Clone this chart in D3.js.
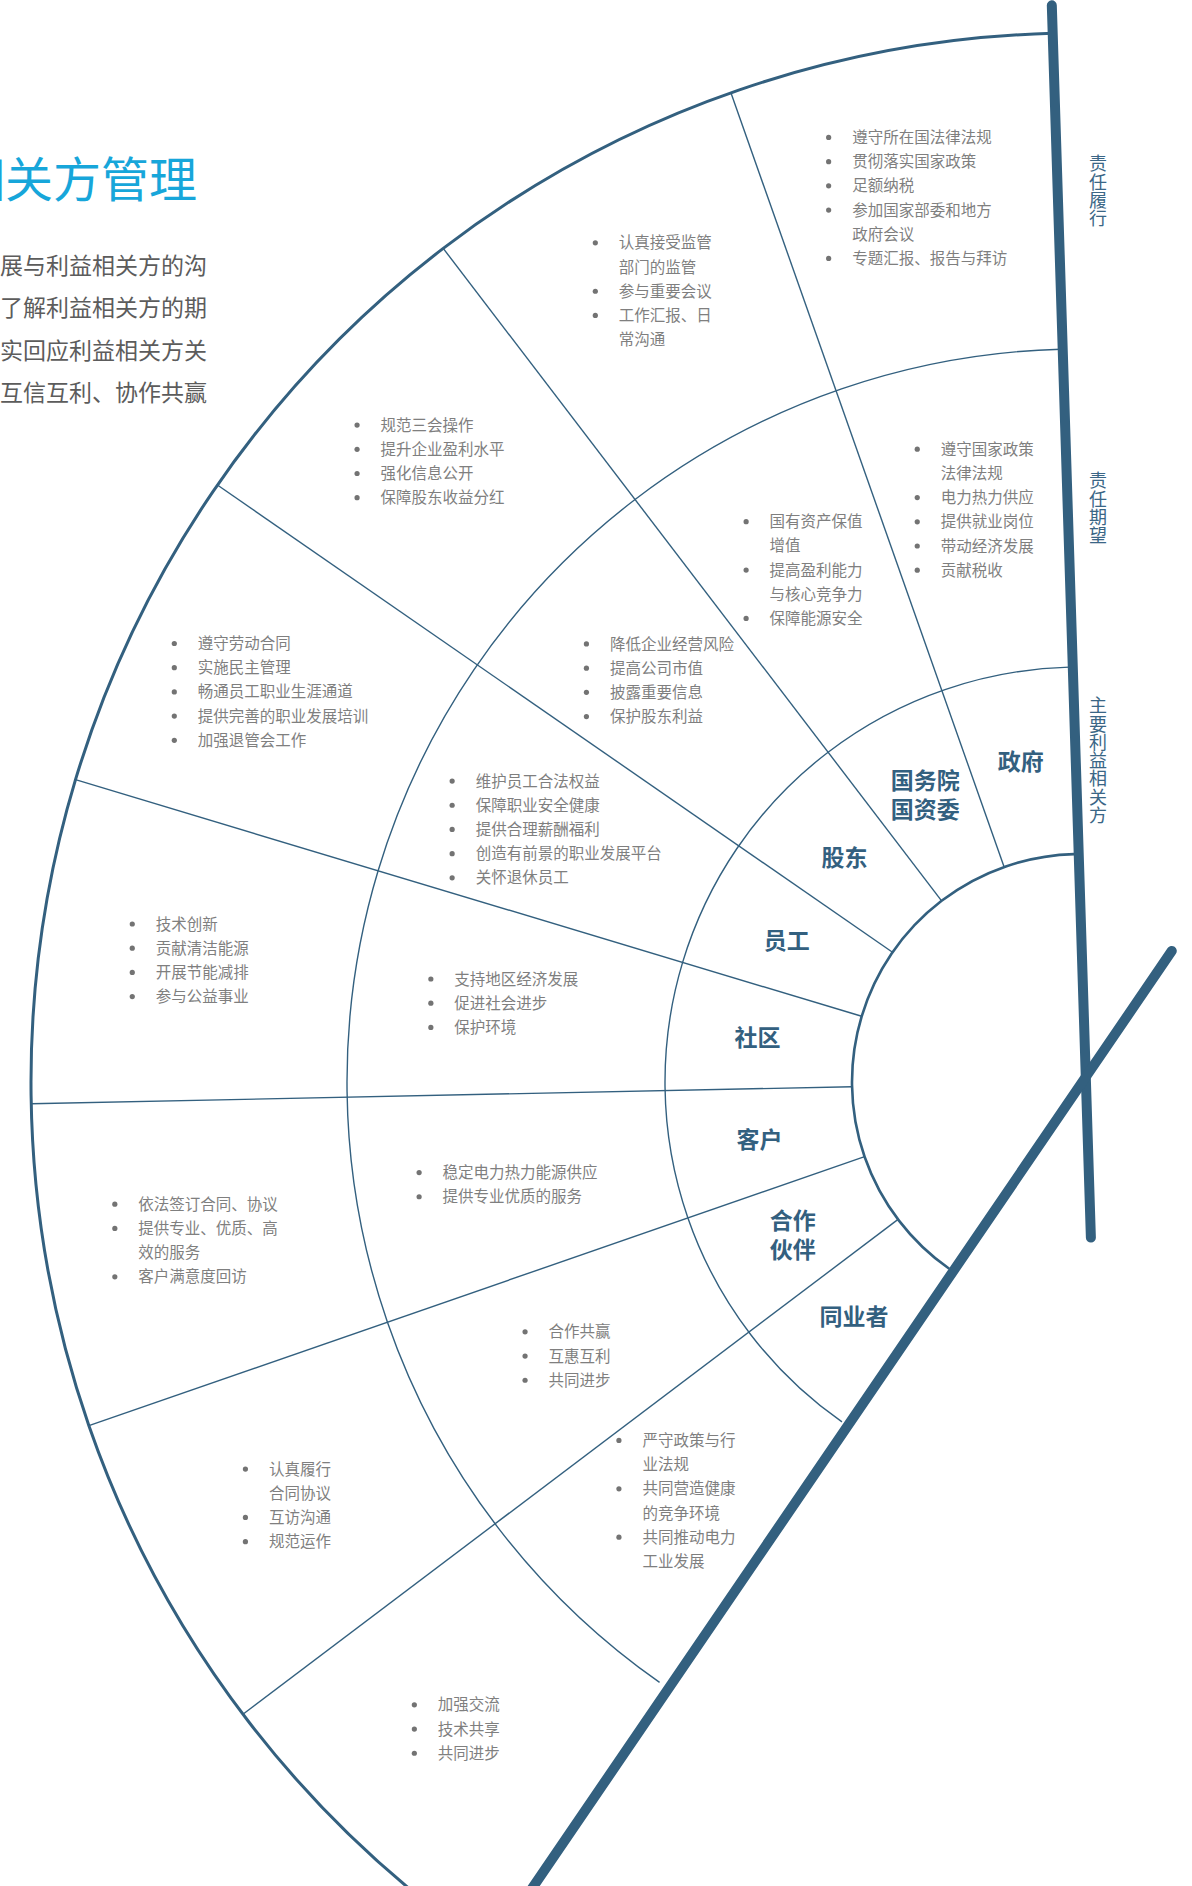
<!DOCTYPE html>
<html>
<head>
<meta charset="utf-8">
<script src="https://cdn.jsdelivr.net/npm/d3@7"></script>
<style>
  body { margin: 0; background: #fff; }
  svg { display: block; font-family: "Noto Sans CJK SC", "Noto Sans", sans-serif; }
</style>
</head>
<body>
<svg class="chart"></svg>
<script>
const width = 1192;
const height = 1886;

const title = "利益相关方管理";
const introLines = [
  "展与利益相关方的沟",
  "了解利益相关方的期",
  "实回应利益相关方关",
  "互信互利、协作共赢"
];

// inner ring -> outer ring
const ringTitles = ["主要利益相关方", "责任期望", "责任履行"];

const stakeholders = [
  ["政府"], ["国务院", "国资委"], ["股东"], ["员工"],
  ["社区"], ["客户"], ["合作", "伙伴"], ["同业者"]
];

const expectations = [
  [["遵守国家政策", "法律法规"], ["电力热力供应"], ["提供就业岗位"], ["带动经济发展"], ["贡献税收"]],
  [["国有资产保值", "增值"], ["提高盈利能力", "与核心竞争力"], ["保障能源安全"]],
  [["降低企业经营风险"], ["提高公司市值"], ["披露重要信息"], ["保护股东利益"]],
  [["维护员工合法权益"], ["保障职业安全健康"], ["提供合理薪酬福利"], ["创造有前景的职业发展平台"], ["关怀退休员工"]],
  [["支持地区经济发展"], ["促进社会进步"], ["保护环境"]],
  [["稳定电力热力能源供应"], ["提供专业优质的服务"]],
  [["合作共赢"], ["互惠互利"], ["共同进步"]],
  [["严守政策与行", "业法规"], ["共同营造健康", "的竞争环境"], ["共同推动电力", "工业发展"]]
];

const performance = [
  [["遵守所在国法律法规"], ["贯彻落实国家政策"], ["足额纳税"], ["参加国家部委和地方", "政府会议"], ["专题汇报、报告与拜访"]],
  [["认真接受监管", "部门的监管"], ["参与重要会议"], ["工作汇报、日", "常沟通"]],
  [["规范三会操作"], ["提升企业盈利水平"], ["强化信息公开"], ["保障股东收益分红"]],
  [["遵守劳动合同"], ["实施民主管理"], ["畅通员工职业生涯通道"], ["提供完善的职业发展培训"], ["加强退管会工作"]],
  [["技术创新"], ["贡献清洁能源"], ["开展节能减排"], ["参与公益事业"]],
  [["依法签订合同、协议"], ["提供专业、优质、高", "效的服务"], ["客户满意度回访"]],
  [["认真履行", "合同协议"], ["互访沟通"], ["规范运作"]],
  [["加强交流"], ["技术共享"], ["共同进步"]]
];

const blue = "#33607f";
const grey = "#7f7f7f";
const cx = 1080;
const cy = 1082;
const radii = [228, 415, 733, 1049];
const deg = Math.PI / 180;
const lineHeight = 24.2;
const bulletGap = 26;

const angle = d3
  .scaleLinear()
  .domain([0, stakeholders.length])
  .range([-1.5 * deg, -145 * deg]);

const svg = d3
  .select(".chart")
  .attr("width", width)
  .attr("height", height);

svg.append("rect").attr("width", width).attr("height", height).attr("fill", "#fff");

// title + intro (cut off at the left edge like the page it came from)
svg
  .append("text")
  .attr("x", 197)
  .attr("y", 197)
  .attr("text-anchor", "end")
  .attr("font-size", 48)
  .attr("fill", "#17a6da")
  .text(title);

svg
  .selectAll("text.intro")
  .data(introLines)
  .enter()
  .append("text")
  .classed("intro", true)
  .attr("x", 207)
  .attr("y", (_, i) => 274 + i * 42.4)
  .attr("text-anchor", "end")
  .attr("font-size", 23)
  .attr("fill", "#5c5c5c")
  .text(d => d);

const g = svg.append("g").attr("transform", `translate(${cx},${cy})`);

const arcPath = r => {
  const p = d3.path();
  p.arc(0, 0, r, angle(stakeholders.length) - Math.PI / 2, angle(0) - Math.PI / 2);
  return p.toString();
};

g.selectAll("path.ring")
  .data(radii)
  .enter()
  .append("path")
  .classed("ring", true)
  .attr("d", arcPath)
  .attr("fill", "none")
  .attr("stroke", blue)
  .attr("stroke-width", (_, i) => (i === 0 ? 2.6 : i === radii.length - 1 ? 3 : 1.4));

const dividers = d3.range(1, stakeholders.length).map(i => [
  d3.pointRadial(angle(i), radii[0]),
  d3.pointRadial(angle(i), radii[radii.length - 1])
]);

// the two heavy axes (hand-drawn, so slightly off the true radii)
const axes = [
  [d3.pointRadial(angle(0), 1077), d3.pointRadial(angle(0) + Math.PI - 2.5 * deg, 156)],
  [d3.pointRadial(35 * deg, 160), d3.pointRadial(-145.8 * deg, 1010)]
];

g.selectAll("line.divider")
  .data(dividers)
  .enter()
  .append("line")
  .classed("divider", true)
  .attr("x1", d => d[0][0])
  .attr("y1", d => d[0][1])
  .attr("x2", d => d[1][0])
  .attr("y2", d => d[1][1])
  .attr("stroke", blue)
  .attr("stroke-width", 1.4);

g.selectAll("line.axis")
  .data(axes)
  .enter()
  .append("line")
  .classed("axis", true)
  .attr("x1", d => d[0][0])
  .attr("y1", d => d[0][1])
  .attr("x2", d => d[1][0])
  .attr("y2", d => d[1][1])
  .attr("stroke", blue)
  .attr("stroke-width", 10)
  .attr("stroke-linecap", "round");

// ring titles written vertically beside the heavy axis
const ringMid = i => (radii[i] + radii[i + 1]) / 2;

g.selectAll("text.ring-title")
  .data(ringTitles)
  .enter()
  .append("text")
  .classed("ring-title", true)
  .attr("x", 18)
  .attr("y", (_, i) => -ringMid(i))
  .attr("text-anchor", "middle")
  .attr("dominant-baseline", "central")
  .style("writing-mode", "vertical-rl")
  .style("letter-spacing", "0.3px")
  .attr("font-size", 18)
  .attr("fill", "#3a6686")
  .text(d => d);

// stakeholder names in the inner ring
stakeholders.forEach((name, i) => {
  const [x, y] = d3.pointRadial(angle(i + 0.5), ringMid(0) + 4);
  g.append("text")
    .attr("x", x)
    .attr("y", y - ((name.length - 1) / 2) * 29)
    .attr("text-anchor", "middle")
    .attr("font-size", 23)
    .attr("font-weight", "bold")
    .attr("fill", blue)
    .selectAll("tspan")
    .data(name)
    .enter()
    .append("tspan")
    .attr("x", x)
    .attr("dy", (_, j) => (j === 0 ? "0.36em" : 29))
    .text(d => d);
});

const bulletBlock = (items, a, r) => {
  const [bx, by] = d3.pointRadial(a, r);
  const lines = [];
  items.forEach(item => item.forEach((t, j) => lines.push({ t, bullet: j === 0 })));
  lines.forEach((d, i) => (d.i = i));

  const block = g.append("g");
  const texts = block
    .selectAll("text")
    .data(lines)
    .enter()
    .append("text")
    .attr("x", bulletGap)
    .attr("y", d => d.i * lineHeight)
    .attr("dy", "0.36em")
    .attr("font-size", 15.5)
    .attr("fill", grey)
    .text(d => d.t);

  block
    .selectAll("circle")
    .data(lines.filter(d => d.bullet))
    .enter()
    .append("circle")
    .attr("cx", 2.5)
    .attr("cy", d => d.i * lineHeight)
    .attr("r", 2.6)
    .attr("fill", "#737373");

  const w = bulletGap + d3.max(texts.nodes(), n => n.getComputedTextLength());
  const h = (lines.length - 1) * lineHeight;
  block.attr("transform", `translate(${bx - w / 2},${by - h / 2})`);
};

expectations.forEach((items, i) => bulletBlock(items, angle(i + 0.5), ringMid(1) + 8));
performance.forEach((items, i) => bulletBlock(items, angle(i + 0.5), ringMid(2) + 8));
</script>
</body>
</html>
